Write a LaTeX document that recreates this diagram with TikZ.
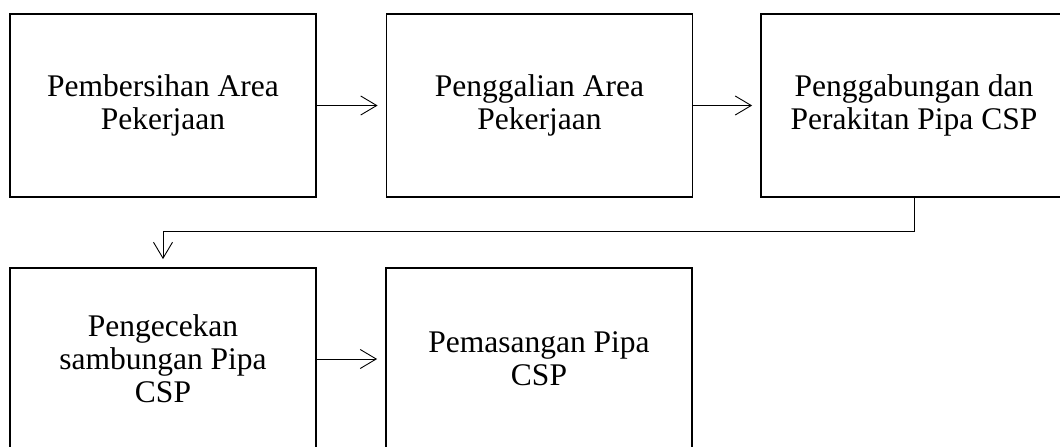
\documentclass[tikz,border=0pt]{standalone}
\usepackage{fontspec}
\setmainfont{Liberation Serif}
\usetikzlibrary{arrows.meta}
\begin{document}
\begin{tikzpicture}[x=1pt,y=-1pt,
  stepbox/.style={draw,line width=1.8pt,minimum width=306pt,align=center,inner sep=0pt,
    font=\fontsize{31.5}{33}\selectfont},
  arr/.style={line width=0.9pt,-{Straight Barb[length=16pt,width=19pt,line width=0.9pt]},shorten >=8pt}]
\path[use as bounding box,clip] (0,0) rectangle (1060,447);
\node[stepbox,minimum height=183pt] (b1) at (163,105.5) {Pembersihan Area\\Pekerjaan};
\node[stepbox,minimum height=183pt] (b2) at (539.5,105.5) {Penggalian Area\\Pekerjaan};
\node[stepbox,minimum height=183pt] (b3) at (914,105.5) {Penggabungan dan\\Perakitan Pipa CSP};
\node[stepbox,minimum height=182pt] (b4) at (163,359) {Pengecekan\\sambungan Pipa\\CSP};
\node[stepbox,minimum height=182pt] (b5) at (539,359) {Pemasangan Pipa\\CSP};
\coordinate (c1) at (914,231);
\draw[arr] (b1.east) -- (b2.west);
\draw[arr] (b2.east) -- (b3.west);
\draw[arr] (b4.east) -- (b5.west);
\draw[arr] (b3.south) -- (c1) -| (b4.north);
\end{tikzpicture}
\end{document}
